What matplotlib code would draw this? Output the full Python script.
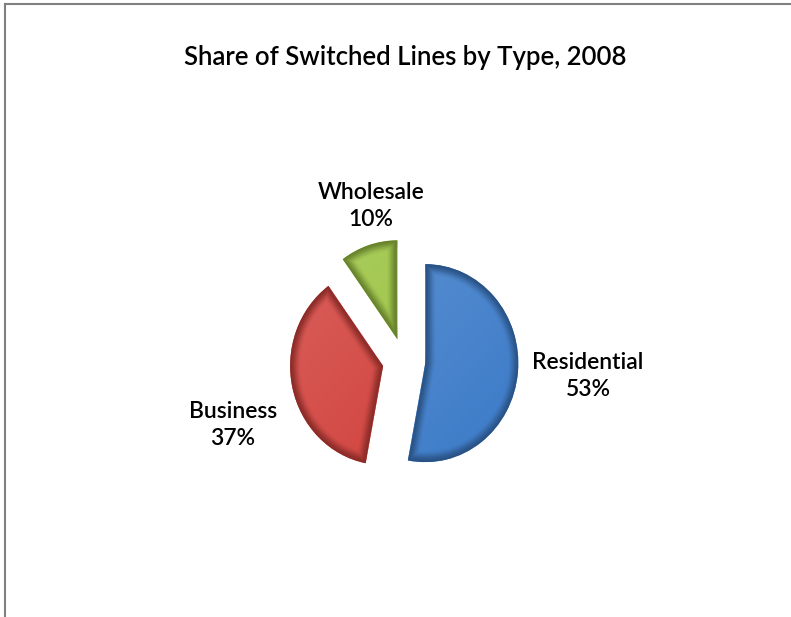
import matplotlib

matplotlib.use("Agg")
import matplotlib.pyplot as plt
import numpy as np
from matplotlib.lines import Line2D
from matplotlib.colors import to_rgb

plt.rcParams["font.family"] = ["Lato", "DejaVu Sans"]

TITLE = "Share of Switched Lines by Type, 2008"
categories = ["Residential", "Business", "Wholesale"]
shares = [53, 37, 10]
colors = ["#3F7DC9", "#D2433E", "#9CC443"]
label_pos = [(588, 376), (233, 425), (371, 206)]  # pixel centres of the data labels

W, H = 791, 617
CX, CY = 404, 361      # pie centre in pixels
RX, RY = 93, 99        # pie radius in pixels (slightly squashed like the source)
EXPLODE = 0.23


def shade_wedge(ax, wedge, base):
    cx, cy = wedge.center
    r0 = wedge.r
    t1, t2 = np.deg2rad(wedge.theta1), np.deg2rad(wedge.theta2)
    xs = np.linspace(cx - r0, cx + r0, 300)
    ys = np.linspace(cy - r0, cy + r0, 300)
    gx, gy = np.meshgrid(xs, ys)
    dx, dy = gx - cx, gy - cy
    rr = np.hypot(dx, dy)
    ang = np.arctan2(dy, dx)
    a1 = (ang - t1) % (2 * np.pi)
    a2 = (t2 - ang) % (2 * np.pi)
    d_rim = r0 - rr
    d_e1 = rr * np.sin(np.clip(a1, 0, np.pi / 2))
    d_e2 = rr * np.sin(np.clip(a2, 0, np.pi / 2))
    d = np.clip(np.minimum(d_rim, np.minimum(d_e1, d_e2)), 0, None)
    t = np.clip(d / 0.12, 0, 1)
    t = t * t * (3 - 2 * t)
    factor = 0.66 + 0.34 * t
    light = np.clip(0.5 - 0.35 * (dx - dy) / r0, 0, 1) * 0.12 * t
    rgb = np.array(to_rgb(base))
    img = rgb[None, None, :] * factor[..., None]
    img = img + (1 - img) * light[..., None]
    im = ax.imshow(np.clip(img, 0, 1), extent=(xs[0], xs[-1], ys[0], ys[-1]), origin="lower",
                   interpolation="bilinear", zorder=2, aspect="auto")
    im.set_clip_path(wedge)


fig = plt.figure(figsize=(W / 100, H / 100), dpi=100)
ax = fig.add_axes([0, 0, 1, 1])
wedges, _ = ax.pie(shares, colors=colors, startangle=90, counterclock=False,
                   explode=[EXPLODE] * len(shares), wedgeprops={"linewidth": 0})
for wedge, color in zip(wedges, colors):
    shade_wedge(ax, wedge, color)
ax.set_aspect("auto")
ax.set_xlim(-CX / RX, (W - CX) / RX)
ax.set_ylim(-(H - CY) / RY, CY / RY)
ax.axis("off")

fig.text(405 / W, 1 - 58 / H, TITLE, ha="center", va="center", fontsize=18.5, fontweight="semibold")
for name, value, (px, py) in zip(categories, shares, label_pos):
    fig.text(px / W, 1 - py / H, f"{name}\n{value}%", ha="center", va="center",
             fontsize=16.5, fontweight="semibold", linespacing=1.4)

# left and top border of the chart area
fig.add_artist(Line2D([5 / W, 5 / W], [0, 1 - 4 / H], color="#808080", linewidth=1.5))
fig.add_artist(Line2D([5 / W, 1], [1 - 4 / H, 1 - 4 / H], color="#808080", linewidth=1.5))

fig.savefig("out.png", dpi=100)
